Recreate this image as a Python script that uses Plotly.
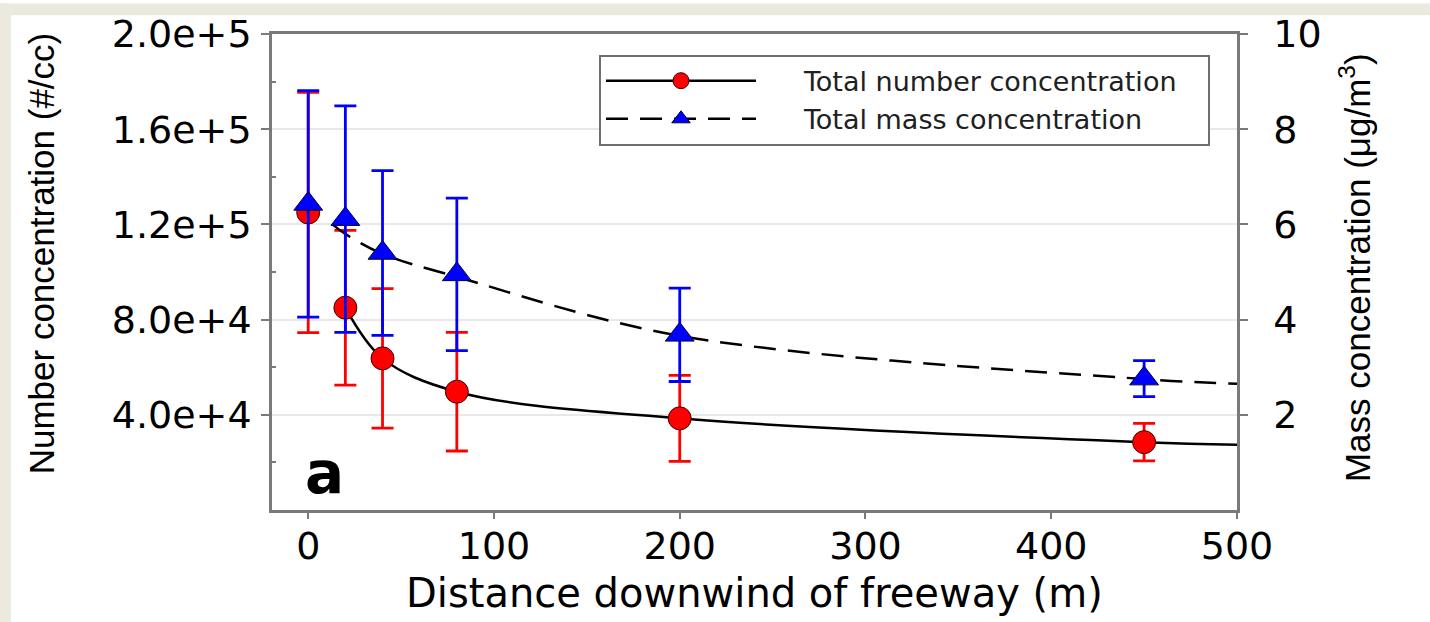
import plotly.graph_objects as go

# ---------------- data ----------------
distance = [0, 20, 40, 80, 200, 450]
number_conc = [125000, 85000, 63700, 49700, 38500, 28500]
number_err = [50500, 32500, 29300, 24900, 18100, 7900]
mass_conc = [6.43, 6.11, 5.40, 4.95, 3.68, 2.76]
mass_err = [2.38, 2.38, 1.73, 1.60, 0.98, 0.38]

number_fit_distance = [20, 40, 80, 200, 450, 500]
number_fit = [85000, 63700, 49700, 38500, 28500, 27400]
mass_fit_distance = [13, 20, 40, 80, 200, 450, 500]
mass_fit = [6.0, 5.8, 5.38, 4.9, 3.66, 2.75, 2.65]

x_tickvals = [0, 100, 200, 300, 400, 500]
left_tickvals = [40000, 80000, 120000, 160000, 200000]
left_ticktext = ["4.0e+4", "8.0e+4", "1.2e+5", "1.6e+5", "2.0e+5"]
left_minor_vals = [20000, 60000, 100000, 140000, 180000]
right_tickvals = [2, 4, 6, 8, 10]

series_names = ["Total number concentration", "Total mass concentration"]
x_title = "Distance downwind of freeway (m)"
y_title = "Number concentration (#/cc)"
y2_title = "Mass concentration (μg/m<sup>3</sup>)"
panel_label = "a"

# ---------------- style ----------------
RED = "#ff0000"
BLUE = "#0000ff"
AXIS = "#7a7a7a"
GRID = "#e8e8e8"
BEIGE = "#ece9de"
TICKFONT = dict(family="DejaVu Sans", size=38, color="#000000")
TITLEFONT = dict(family="Liberation Sans", size=35, color="#000000")
NB = "\u00a0"

fig = go.Figure()

# number concentration: fit line, then points with error bars
fig.add_trace(go.Scatter(
    x=number_fit_distance, y=number_fit, mode="lines",
    line=dict(color="#000000", width=2.5, shape="spline", smoothing=1.0),
    showlegend=False, hoverinfo="skip", yaxis="y"))
fig.add_trace(go.Scatter(
    x=distance, y=number_conc, mode="markers",
    marker=dict(symbol="circle", size=23, color=RED,
                line=dict(color="#400000", width=1)),
    error_y=dict(type="data", array=number_err, color=RED, thickness=2.8, width=11),
    showlegend=False, yaxis="y"))

# mass concentration: fit line, then points with error bars (right axis)
fig.add_trace(go.Scatter(
    x=mass_fit_distance, y=mass_fit, mode="lines",
    line=dict(color="#000000", width=2.5, dash="22px,12px", shape="spline", smoothing=1.0),
    showlegend=False, hoverinfo="skip", yaxis="y2"))
fig.add_trace(go.Scatter(
    x=distance, y=mass_conc, mode="markers",
    marker=dict(symbol="triangle-up", size=25, color=BLUE,
                line=dict(color="#000040", width=1)),
    error_y=dict(type="data", array=mass_err, color=BLUE, thickness=2.8, width=11),
    showlegend=False, yaxis="y2"))

# legend entries
fig.add_trace(go.Scatter(
    x=[None], y=[None], mode="lines+markers", name=NB * 5 + series_names[0] + NB * 3,
    line=dict(color="#000000", width=2.5),
    marker=dict(symbol="circle", size=16, color=RED, line=dict(color="#400000", width=1)),
    yaxis="y"))
fig.add_trace(go.Scatter(
    x=[None], y=[None], mode="lines+markers", name=NB * 5 + series_names[1] + NB * 3,
    line=dict(color="#000000", width=2.5, dash="22px,12px"),
    marker=dict(symbol="triangle-up", size=16, color=BLUE, line=dict(color="#000040", width=1)),
    yaxis="y2"))

W, H = 1430, 622
L, R, T, B = 272, 1430 - 1237, 26, 622 - 510
pw, ph = W - L - R, H - T - B


def px_x(p):
    return (p - L) / pw


def px_y(p):
    return (H - B - p) / ph


fig.update_layout(
    width=W, height=H,
    margin=dict(l=L, r=R, t=T, b=B, pad=0),
    paper_bgcolor="white", plot_bgcolor="white",
    showlegend=True,
    legend=dict(
        x=px_x(1210), y=px_y(47), xanchor="right", yanchor="top",
        bgcolor="white", bordercolor="#6f6f6f", borderwidth=2,
        font=dict(family="DejaVu Sans", size=27, color="#202020"),
        itemwidth=150, tracegroupgap=0,
    ),
    xaxis=dict(
        range=[-19.5, 500], tickmode="array", tickvals=x_tickvals,
        ticks="outside", ticklen=6, tickwidth=2, tickcolor=AXIS, ticklabelstandoff=-5,
        showline=True, linecolor=AXIS, linewidth=2.5, mirror=True,
        showgrid=False, zeroline=False, tickfont=TICKFONT,
    ),
    yaxis=dict(
        range=[0, 200000], tickmode="array", tickvals=left_tickvals, ticktext=left_ticktext,
        ticks="outside", ticklen=8, tickwidth=2, tickcolor=AXIS, ticklabelstandoff=2,
        showline=True, linecolor=AXIS, linewidth=2.5,
        showgrid=True, gridcolor=GRID, gridwidth=1.5, zeroline=False, tickfont=TICKFONT,
        minor=dict(tickmode="array", tickvals=left_minor_vals, ticks="inside",
                   ticklen=4, tickwidth=1.5, tickcolor=AXIS, showgrid=False),
    ),
    yaxis2=dict(
        range=[0, 10], tickmode="array", tickvals=right_tickvals,
        overlaying="y", side="right", anchor="x",
        ticks="outside", ticklen=8, tickwidth=2, tickcolor=AXIS, ticklabelstandoff=18,
        showline=True, linecolor=AXIS, linewidth=2.5,
        showgrid=False, zeroline=False, tickfont=TICKFONT,
    ),
    annotations=[
        dict(text=x_title, xref="paper", yref="paper", x=px_x(754), y=px_y(594),
             xanchor="center", yanchor="middle", showarrow=False,
             font=dict(family="DejaVu Sans", size=40, color="#000000")),
        dict(text=y_title, xref="paper", yref="paper", x=px_x(41), y=px_y(249),
             xanchor="center", yanchor="middle", showarrow=False, textangle=-90,
             font=TITLEFONT),
        dict(text=y2_title, xref="paper", yref="paper", x=px_x(1355), y=px_y(264),
             xanchor="center", yanchor="middle", showarrow=False, textangle=-90,
             font=TITLEFONT),
        dict(text="<b>%s</b>" % panel_label, xref="paper", yref="paper", x=px_x(324), y=px_y(472),
             xanchor="center", yanchor="middle", showarrow=False,
             font=dict(family="DejaVu Sans", size=58, color="#000000")),
    ],
    shapes=[
        dict(type="rect", xref="paper", yref="paper", x0=px_x(-5), x1=px_x(11),
             y0=px_y(630), y1=px_y(-5), fillcolor=BEIGE, line=dict(width=0), layer="below"),
        dict(type="rect", xref="paper", yref="paper", x0=px_x(-5), x1=px_x(1435),
             y0=px_y(7), y1=px_y(-5), fillcolor=BEIGE, line=dict(width=0), layer="below"),
    ],
)

fig.write_html("out.html")
